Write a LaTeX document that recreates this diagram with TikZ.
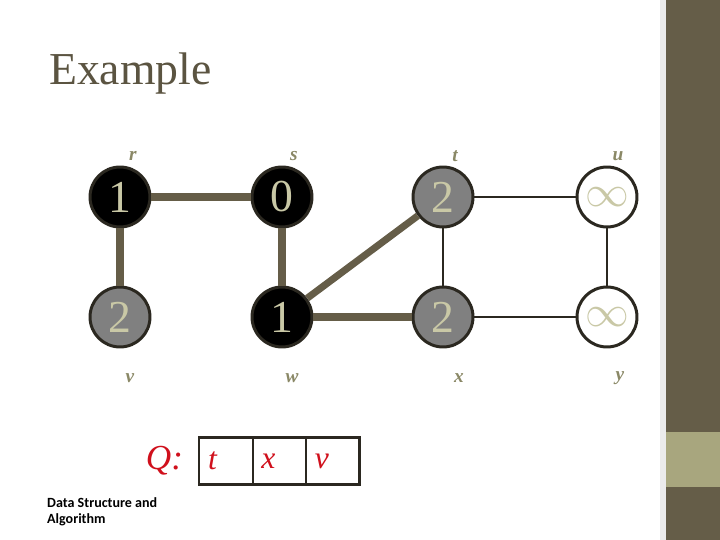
\documentclass[tikz,border=0pt]{standalone}
\usepackage{fontspec}
\setmainfont{Liberation Serif}
\newfontfamily\notefont{Carlito}
\usetikzlibrary{positioning}
\definecolor{bark}{HTML}{655D48}
\definecolor{sage}{HTML}{A8A67E}
\definecolor{rim}{HTML}{2B2820}
\definecolor{digit}{HTML}{C9C8A6}
\definecolor{tag}{HTML}{8A8866}
\definecolor{qred}{HTML}{D0101C}

\begin{document}
\begin{tikzpicture}[
    x=0.02cm, y=-0.02cm,
    vtx/.style={circle, draw=rim, line width=1.7pt, minimum size=1.2cm,
                inner sep=0pt, text=digit, font=\fontsize{26}{26}\selectfont},
    done/.style={vtx, fill=black},
    seen/.style={vtx, fill=black!50},
    fresh/.style={vtx, fill=white},
    tag/.style={font=\bfseries\itshape\fontsize{11}{11}\selectfont, text=tag,
                inner sep=1pt},
    tree/.style={line width=4pt, draw=bark},
    edge/.style={line width=1.4pt, draw=rim},
    cell/.style={draw=rim, line width=1.4pt, minimum width=1.07cm,
                 minimum height=0.94cm, inner sep=3pt, text=qred,
                 font=\itshape\fontsize{18}{18}\selectfont, text width=0.72cm},
]
\useasboundingbox (0,0) rectangle (720,540);
% slide background and side bar
\fill[white] (0,0) rectangle (720,540);
\fill[black!8] (660,0) rectangle (666,540);
\fill[bark] (666,0) rectangle (720,540);
\fill[sage] (666,432) rectangle (720,487);

\node[anchor=base west, text=bark!90!black, font=\fontsize{26}{26}\selectfont]
    (title) at (43,85) {Example};

% vertices
\node[done]  (r) at (120,197) {1};
\node[done]  (s) at (282,197) {0};
\node[seen]  (t) at (443,197) {2};
\node[fresh] (u) at (607,197) {$\infty$};
\node[seen]  (v) at (120,317) {2};
\node[done]  (w) at (282,317) {1};
\node[seen]  (x) at (443,317) {2};
\node[fresh] (y) at (607,317) {$\infty$};

% vertex names
\node[tag] (rname) at (133,156) {r};
\node[tag] (sname) at (294,156) {s};
\node[tag] (tname) at (455,156) {t};
\node[tag] (uname) at (618,156) {u};
\node[tag] (vname) at (130,378) {v};
\node[tag] (wname) at (292,378) {w};
\node[tag] (xname) at (459,378) {x};
\node[tag] (yname) at (620,378) {y};

% edges
\draw[tree] (r) -- (s);
\draw[tree] (r) -- (v);
\draw[tree] (s) -- (w);
\draw[tree] (w) -- (t);
\draw[tree] (w) -- (x);
\draw[edge] (t) -- (u);
\draw[edge] (t) -- (x);
\draw[edge] (u) -- (y);
\draw[edge] (x) -- (y);

% queue
\node[cell] (q1) at (226,461) {t};
\node[cell, right=-1.4pt of q1] (q2) {x};
\node[cell, right=-1.4pt of q2] (q3) {v};
\node[left=5pt of q1, text=qred, font=\itshape\fontsize{20}{20}\selectfont] (qlab) {Q:};

\node[anchor=north west, align=left, font=\notefont\bfseries\fontsize{8}{9.5}\selectfont]
    (note) at (41,491) {Data Structure and\\Algorithm};
\end{tikzpicture}
\end{document}
